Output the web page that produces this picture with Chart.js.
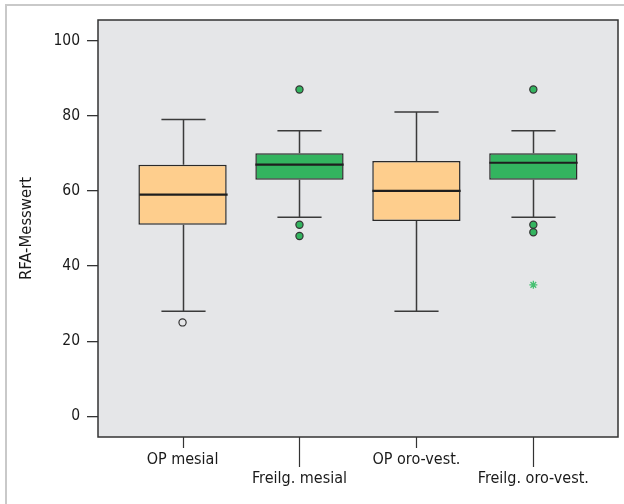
<!DOCTYPE html>
<html>
<head>
<meta charset="utf-8">
<script src="https://cdn.jsdelivr.net/npm/chart.js@4"></script>
<style>
  html, body { margin: 0; padding: 0; background: #fff; }
  .frame { position: absolute; left: 5px; top: 4px; width: 640px; height: 520px;
           border-left: 2px solid #c9c9c9; border-top: 2px solid #c9c9c9; }
  .wrap { position: absolute; left: 0; top: 0; width: 624px; height: 504px; }
</style>
</head>
<body>
<div class="frame"></div>
<div class="wrap"><canvas id="chart"></canvas></div>
<script>
// Box plot data
const categories = ['OP mesial', 'Freilg. mesial', 'OP oro-vest.', 'Freilg. oro-vest.'];
const whiskerLow = [28, 53, 28, 53];
const q1 = [51, 63, 52, 63];
const median = [59, 67, 60, 67.5];
const q3 = [67, 70, 68, 70];
const whiskerHigh = [79, 76, 81, 76];
const outliers = [[25], [87, 51, 48], [], [87, 51, 49]];
const extremes = [[], [], [], [35]];
const yTicks = [0, 20, 40, 60, 80, 100];

const orange = '#FECE8D';
const green = '#33B45F';
const font = "'DejaVu Sans Condensed', 'Liberation Sans Narrow', sans-serif";

const boxData = categories.map((c, i) => ({x: i + 1, y: [q1[i], q3[i]]}));
const outlierData = [];
outliers.forEach((list, i) => list.forEach(v => outlierData.push({x: i + 1, y: v})));
const extremeData = [];
extremes.forEach((list, i) => list.forEach(v => extremeData.push({x: i + 1, y: v})));

const boxPlugin = {
    id: 'boxparts',
    beforeDraw(chart) {
        const a = chart.chartArea, ctx = chart.ctx;
        ctx.save();
        ctx.fillStyle = '#E5E6E8';
        ctx.fillRect(a.left, a.top, a.right - a.left, a.bottom - a.top);
        ctx.restore();
    },
    afterDatasetsDraw(chart) {
        const ctx = chart.ctx, xs = chart.scales.x, ys = chart.scales.y;
        const bars = chart.getDatasetMeta(0).data;
        ctx.save();
        ctx.lineCap = 'butt';
        for (let i = 0; i < categories.length; i++) {
            const cx = Math.round(xs.getPixelForValue(i + 1)) + 0.5;
            const w = bars[i].width;
            const cap = w / 4;
            ctx.strokeStyle = '#3a3a3a';
            ctx.lineWidth = 1.5;
            ctx.beginPath();
            ctx.moveTo(cx, ys.getPixelForValue(q3[i]));
            ctx.lineTo(cx, ys.getPixelForValue(whiskerHigh[i]));
            ctx.moveTo(cx, ys.getPixelForValue(q1[i]));
            ctx.lineTo(cx, ys.getPixelForValue(whiskerLow[i]));
            ctx.moveTo(cx - cap, ys.getPixelForValue(whiskerHigh[i]));
            ctx.lineTo(cx + cap, ys.getPixelForValue(whiskerHigh[i]));
            ctx.moveTo(cx - cap, ys.getPixelForValue(whiskerLow[i]));
            ctx.lineTo(cx + cap, ys.getPixelForValue(whiskerLow[i]));
            ctx.stroke();
            // median
            ctx.strokeStyle = '#1e1e1e';
            ctx.lineWidth = 2.2;
            ctx.beginPath();
            ctx.moveTo(cx - w / 2, ys.getPixelForValue(median[i]));
            ctx.lineTo(cx + w / 2, ys.getPixelForValue(median[i]));
            ctx.stroke();
        }
        ctx.restore();
    },
    afterDraw(chart) {
        const a = chart.chartArea, ctx = chart.ctx, xs = chart.scales.x;
        ctx.save();
        ctx.strokeStyle = '#333';
        ctx.lineWidth = 1.5;
        ctx.strokeRect(a.left, a.top, a.right - a.left, a.bottom - a.top);
        // x tick marks, longer for the staggered labels
        ctx.lineWidth = 1.2;
        ctx.beginPath();
        for (let i = 0; i < categories.length; i++) {
            const px = Math.round(xs.getPixelForValue(i + 1)) + 0.5;
            ctx.moveTo(px, a.bottom);
            ctx.lineTo(px, a.bottom + (i % 2 ? 30 : 11));
        }
        ctx.stroke();
        ctx.restore();
    }
};

new Chart(document.getElementById('chart'), {
    type: 'bar',
    data: {
        datasets: [{
            type: 'bar',
            data: boxData,
            backgroundColor: categories.map((c, i) => i % 2 ? green : orange),
            borderColor: '#2a2a2a',
            borderWidth: 1.5,
            borderSkipped: false,
            categoryPercentage: 1,
            barPercentage: 0.755,
            order: 3
        }, {
            type: 'scatter',
            data: outlierData,
            pointRadius: 3.6,
            pointBorderWidth: 1.2,
            pointBorderColor: '#333',
            pointBackgroundColor: ctx => (ctx.raw && ctx.raw.x % 2 === 0) ? green : 'rgba(0,0,0,0)',
            order: 1
        }, {
            type: 'scatter',
            data: extremeData,
            pointStyle: 'star',
            pointRadius: 4,
            pointBorderWidth: 1.3,
            pointBorderColor: '#46C072',
            order: 1
        }]
    },
    options: {
        responsive: true,
        maintainAspectRatio: false,
        animation: false,
        layout: {padding: {left: 0, top: 20, right: 6, bottom: 0}},
        plugins: {legend: {display: false}, tooltip: {enabled: false}},
        scales: {
            x: {
                type: 'linear',
                offset: false,
                min: 0.277,
                max: 4.724,
                afterFit: s => { s.height = 67; },
                afterBuildTicks: s => { s.ticks = categories.map((c, i) => ({value: i + 1})); },
                grid: {display: false, drawTicks: false, offset: false},
                border: {display: false},
                ticks: {
                    autoSkip: false,
                    maxRotation: 0,
                    padding: 13,
                    color: '#1a1a1a',
                    font: {family: font, size: 16, lineHeight: 1.2},
                    callback: v => {
                        const i = Math.round(v) - 1;
                        return i % 2 ? ['', categories[i]] : categories[i];
                    }
                }
            },
            y: {
                min: -5.5,
                max: 105.5,
                afterFit: s => { s.width = 98; },
                afterBuildTicks: s => { s.ticks = yTicks.map(v => ({value: v})); },
                grid: {drawOnChartArea: false, tickLength: 11, color: '#333', lineWidth: 1.3},
                border: {display: false},
                ticks: {
                    padding: 7,
                    color: '#1a1a1a',
                    font: {family: font, size: 15.5}
                },
                title: {
                    display: true,
                    text: 'RFA-Messwert',
                    color: '#1a1a1a',
                    font: {family: font, size: 16.5, lineHeight: 1.2},
                    padding: {top: 17, bottom: 0}
                }
            }
        }
    },
    plugins: [boxPlugin]
});
</script>
</body>
</html>
